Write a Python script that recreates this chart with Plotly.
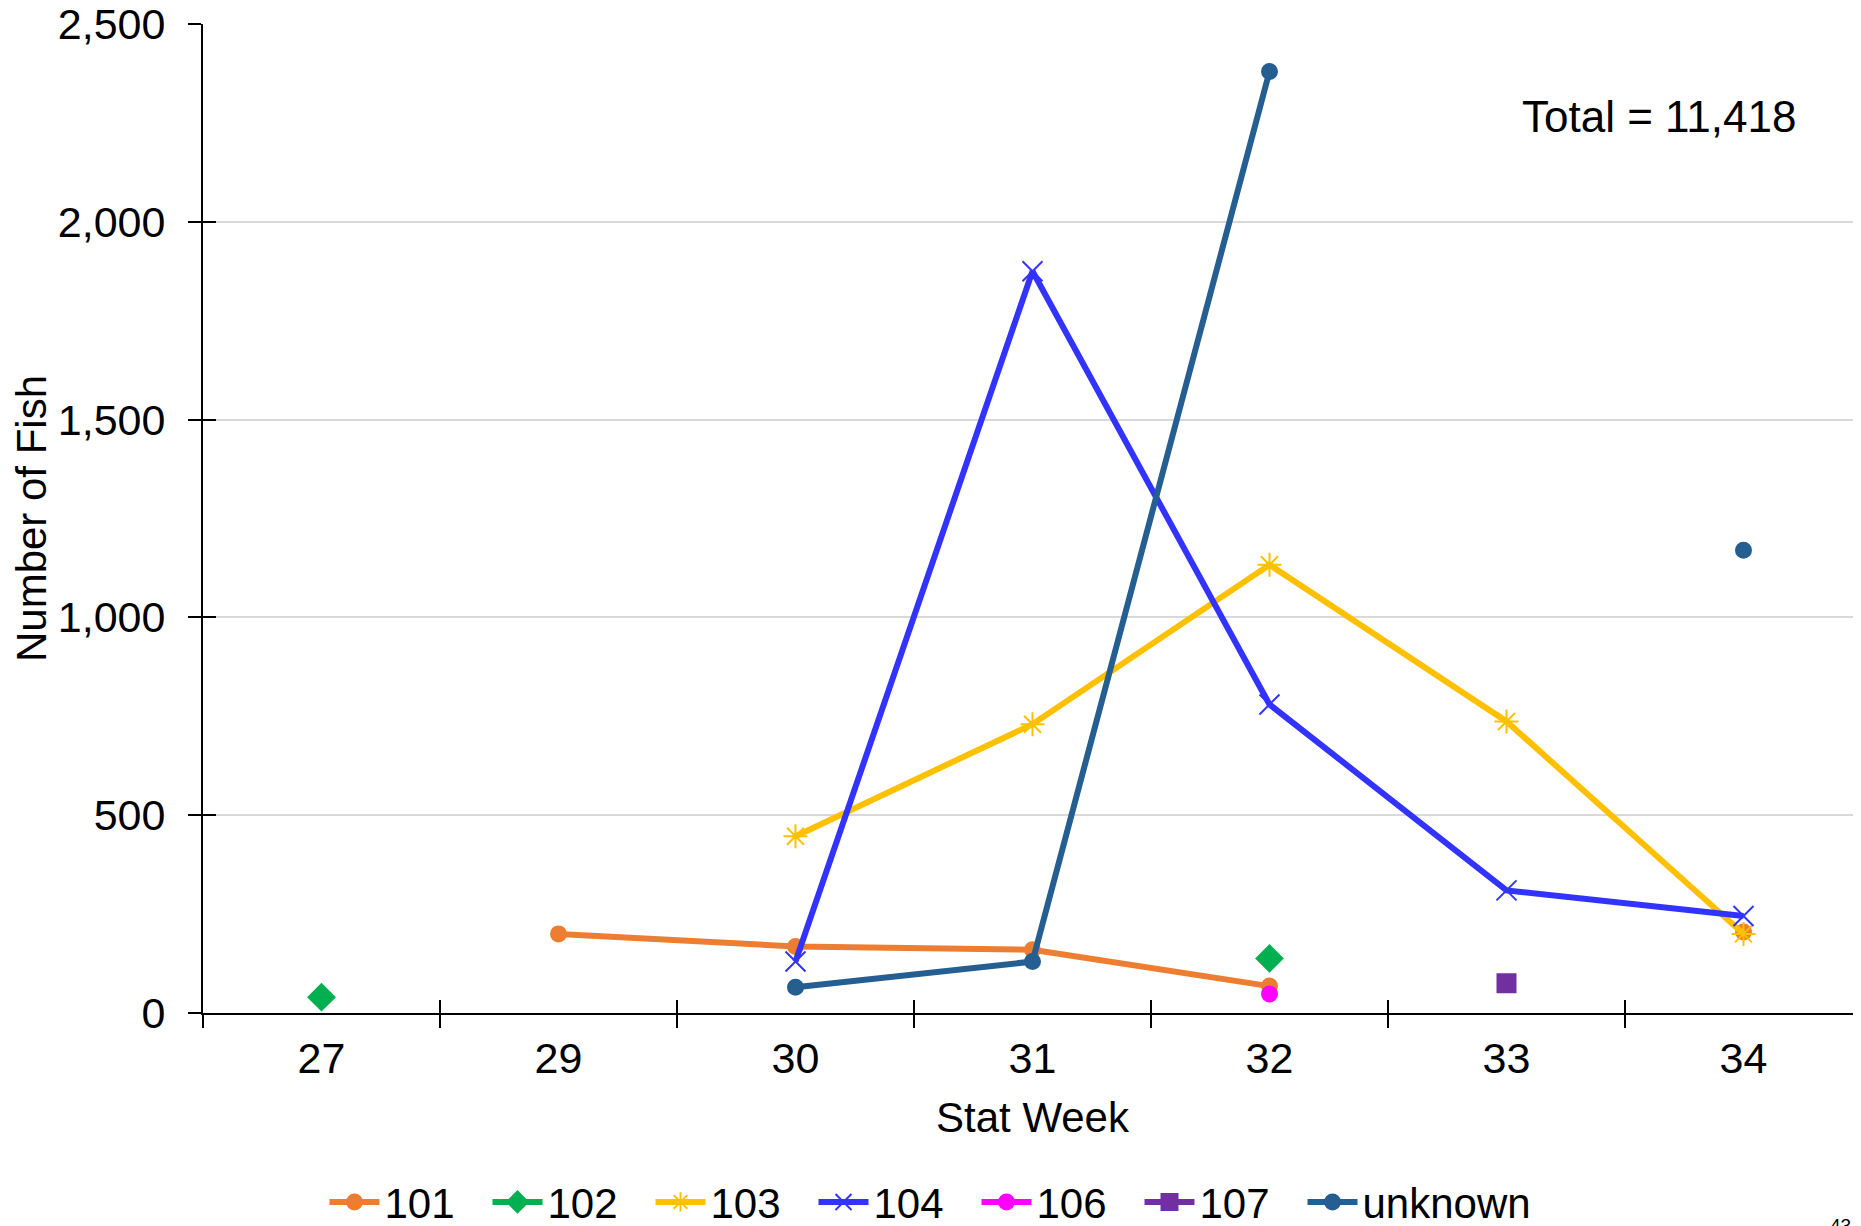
import plotly.graph_objects as go

weeks = ["27", "29", "30", "31", "32", "33", "34"]
s101 = [None, 200, 168, 160, 68, None, 205]
s102 = [40, None, None, None, 138, None, None]
s103 = [None, None, 447, 730, 1133, 737, 200]
s104 = [None, None, 130, 1875, 780, 310, 245]
s106 = [None, None, None, None, 48, None, None]
s107 = [None, None, None, None, None, 75, None]
sunk = [None, None, 65, 130, 2380, None, 1170]

series = [
    ("101", s101, "#ED7D31", "circle", 15),
    ("102", s102, "#00B050", "diamond", 20),
    ("103", s103, "#FFC000", "asterisk-open", 20),
    ("104", s104, "#3333FF", "x-thin-open", 20),
    ("106", s106, "#FF00FF", "circle", 15),
    ("107", s107, "#7030A0", "square", 18),
    ("unknown", sunk, "#255E91", "circle", 15),
]

FONT = "Liberation Sans, Arial, sans-serif"

fig = go.Figure()
for name, vals, col, sym, sz in series:
    fig.add_trace(go.Scatter(
        x=weeks, y=vals, name=name, mode="lines+markers",
        line=dict(color=col, width=6),
        marker=dict(color=col, symbol=sym, size=sz,
                    line=dict(color=col, width=2)),
        connectgaps=False,
        legendwidth=98 if name != "unknown" else 185,
    ))

# helper trace for inside half of the cross ticks
fig.add_trace(go.Scatter(x=weeks, y=[None] * len(weeks), xaxis="x2", yaxis="y2",
                         showlegend=False, hoverinfo="skip", mode="markers"))

fig.update_layout(
    width=1861, height=1226,
    margin=dict(l=195, r=7, t=16, b=221, autoexpand=False),
    paper_bgcolor="white", plot_bgcolor="white",
    font=dict(family=FONT, size=42, color="black"),
    xaxis=dict(
        type="category", categoryorder="array", categoryarray=weeks,
        range=[-0.5, 6.5], tickson="boundaries", automargin=False,
        ticks="outside", ticklen=13, tickwidth=1.5, tickcolor="black",
        showline=True, linecolor="black", linewidth=2,
        showgrid=False, zeroline=False,
        ticklabelstandoff=6, ticklabeloverflow="allow",
        title=dict(text="Stat Week", standoff=22, font=dict(size=42)),
        tickfont=dict(size=43),
    ),
    xaxis2=dict(
        type="category", categoryorder="array", categoryarray=weeks,
        range=[-0.5, 6.5], tickson="boundaries", overlaying="x",
        ticks="inside", ticklen=13, tickwidth=1.5, tickcolor="black",
        showticklabels=False, showgrid=False, zeroline=False, showline=False,
    ),
    yaxis=dict(
        range=[0, 2500], dtick=500, tickformat=",", automargin=False,
        ticks="outside", ticklen=13, tickwidth=1.5, tickcolor="black",
        showline=True, linecolor="black", linewidth=2,
        showgrid=True, gridcolor="#D9D9D9", gridwidth=1.5, zeroline=False,
        ticklabelstandoff=14, ticklabeloverflow="allow",
        title=dict(text="Number of Fish", standoff=5, font=dict(size=42)),
        tickfont=dict(size=43),
    ),
    yaxis2=dict(
        range=[0, 2500], dtick=500, overlaying="y",
        ticks="inside", ticklen=13, tickwidth=1.5, tickcolor="black",
        showticklabels=False, showgrid=False, zeroline=False, showline=False,
    ),
    legend=dict(
        orientation="h", xref="container", yref="container",
        x=0.5, xanchor="center", y=0.026, yanchor="middle",
        font=dict(size=42), itemwidth=50,
        traceorder="normal",
    ),
    showlegend=True,
    annotations=[
        dict(text="Total = 11,418", xref="paper", yref="paper",
             x=0.8777, y=0.9067, xanchor="center", yanchor="middle",
             showarrow=False, font=dict(size=44)),
        dict(text="43", xref="paper", yref="paper",
             x=0.9946, y=-0.2026, xanchor="right", yanchor="top",
             showarrow=False, font=dict(size=19)),
    ],
)

fig.write_html("out.html")
